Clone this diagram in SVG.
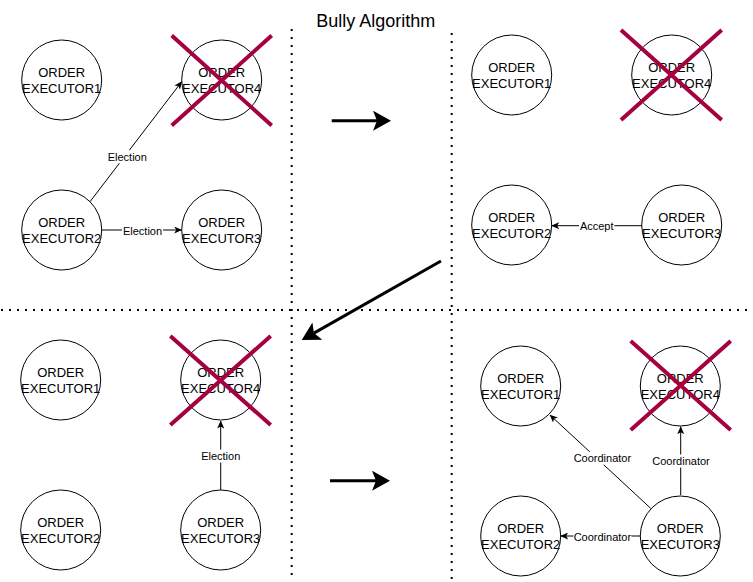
<svg xmlns="http://www.w3.org/2000/svg" width="753" height="582" viewBox="0 0 753 582">
<style>
.bg{fill:#ffffff}
circle.node{fill:#ffffff;stroke:#000000;stroke-width:1}
.nt{font-family:"Liberation Sans",Arial,sans-serif;font-size:13px;text-anchor:middle;fill:#000000}
.lt{font-family:"Liberation Sans",Arial,sans-serif;font-size:11px;text-anchor:middle;fill:#000000}
.lb{fill:#ffffff}
.edge{stroke:#000000;stroke-width:1;fill:none;marker-end:url(#thin)}
.big{stroke:#000000;stroke-width:3;fill:none;marker-end:url(#thick)}
.dot{stroke:#000000;stroke-width:2;stroke-dasharray:2 6;fill:none}
.cross{stroke:#A50040;stroke-width:4;fill:none}
.title{font-family:"Liberation Sans",Arial,sans-serif;font-size:18px;text-anchor:middle;fill:#000000}
</style>
<defs>
<marker id="thin" markerUnits="userSpaceOnUse" viewBox="0 0 8 7" refX="7.5" refY="3.5" markerWidth="8" markerHeight="7" orient="auto">
<path d="M0,0 L8,3.5 L0,7 L2,3.5 Z" fill="#000000"/>
</marker>
<marker id="thick" markerUnits="userSpaceOnUse" viewBox="0 0 18 20" refX="4" refY="10" markerWidth="18" markerHeight="20" orient="auto">
<path d="M0,0 L18,10 L0,20 L4,10 Z" fill="#000000"/>
</marker>
</defs>
<rect class="bg" x="0" y="0" width="753" height="582"/>
<text class="title" x="375.8" y="26.7">Bully Algorithm</text>
<g id="separators">
<line class="dot" x1="291.7" y1="29" x2="291.7" y2="577"/>
<line class="dot" x1="451.7" y1="33" x2="451.7" y2="581"/>
<line class="dot" x1="1" y1="310" x2="753" y2="310"/>
</g>
<g id="connectors">
<line class="edge" x1="90" y1="201.7" x2="181.7" y2="81.7"/>
<line class="edge" x1="101.7" y1="230" x2="181.7" y2="230"/>
<line class="edge" x1="641.7" y1="225.7" x2="551.7" y2="225.7"/>
<line class="edge" x1="220.7" y1="490" x2="220.7" y2="421"/>
<line class="edge" x1="650.7" y1="508.3" x2="550" y2="415"/>
<line class="edge" x1="680.7" y1="495" x2="680.7" y2="426.7"/>
<line class="edge" x1="640" y1="536" x2="560.7" y2="536"/>
<line class="big" x1="331.7" y1="120.7" x2="377" y2="120.7"/>
<line class="big" x1="441" y1="261" x2="313.9" y2="333.1"/>
<line class="big" x1="330" y1="480.7" x2="376" y2="480.7"/>
<g id="edge-labels">
<rect class="lb" x="106.8" y="150.2" width="41" height="13"/><text class="lt" x="127.3" y="160.7">Election</text>
<rect class="lb" x="122" y="224.2" width="41" height="13"/><text class="lt" x="142.5" y="234.7">Election</text>
<rect class="lb" x="579" y="219.2" width="35.4" height="13"/><text class="lt" x="596.7" y="229.7">Accept</text>
<rect class="lb" x="200.2" y="449.5" width="41" height="13"/><text class="lt" x="220.7" y="460">Election</text>
<rect class="lb" x="573.4" y="451.8" width="58" height="13"/><text class="lt" x="602.4" y="462.3">Coordinator</text>
<rect class="lb" x="652" y="454.5" width="58" height="13"/><text class="lt" x="681" y="465">Coordinator</text>
<rect class="lb" x="573.4" y="530.2" width="58" height="13"/><text class="lt" x="602.4" y="540.7">Coordinator</text>
</g>
</g>
<g id="q1-executor1"><circle class="node" cx="61.7" cy="80" r="40"/><text class="nt" x="61.7" y="77">ORDER</text><text class="nt" x="61.7" y="92.6">EXECUTOR1</text></g>
<g id="q1-executor4"><circle class="node" cx="221.7" cy="80" r="40"/><text class="nt" x="221.7" y="77">ORDER</text><text class="nt" x="221.7" y="92.6">EXECUTOR4</text></g>
<g id="q1-executor2"><circle class="node" cx="61.7" cy="230" r="40"/><text class="nt" x="61.7" y="227">ORDER</text><text class="nt" x="61.7" y="242.6">EXECUTOR2</text></g>
<g id="q1-executor3"><circle class="node" cx="221.7" cy="230" r="40"/><text class="nt" x="221.7" y="227">ORDER</text><text class="nt" x="221.7" y="242.6">EXECUTOR3</text></g>
<g id="q1-cross"><line class="cross" x1="171.7" y1="35.5" x2="271.7" y2="125.5"/><line class="cross" x1="271.7" y1="35.5" x2="171.7" y2="125.5"/></g>

<g id="q2-executor1"><circle class="node" cx="511.7" cy="75" r="40"/><text class="nt" x="511.7" y="72">ORDER</text><text class="nt" x="511.7" y="87.6">EXECUTOR1</text></g>
<g id="q2-executor4"><circle class="node" cx="671.7" cy="75" r="40"/><text class="nt" x="671.7" y="72">ORDER</text><text class="nt" x="671.7" y="87.6">EXECUTOR4</text></g>
<g id="q2-executor2"><circle class="node" cx="511.7" cy="225" r="40"/><text class="nt" x="511.7" y="222">ORDER</text><text class="nt" x="511.7" y="237.6">EXECUTOR2</text></g>
<g id="q2-executor3"><circle class="node" cx="681.7" cy="225" r="40"/><text class="nt" x="681.7" y="222">ORDER</text><text class="nt" x="681.7" y="237.6">EXECUTOR3</text></g>
<g id="q2-cross"><line class="cross" x1="621" y1="30" x2="721.7" y2="120"/><line class="cross" x1="721.7" y1="30" x2="621" y2="120"/></g>

<g id="q3-executor1"><circle class="node" cx="60.7" cy="380" r="40"/><text class="nt" x="60.7" y="377">ORDER</text><text class="nt" x="60.7" y="392.6">EXECUTOR1</text></g>
<g id="q3-executor4"><circle class="node" cx="220.7" cy="380" r="40"/><text class="nt" x="220.7" y="377">ORDER</text><text class="nt" x="220.7" y="392.6">EXECUTOR4</text></g>
<g id="q3-executor2"><circle class="node" cx="60.7" cy="530" r="40"/><text class="nt" x="60.7" y="527">ORDER</text><text class="nt" x="60.7" y="542.6">EXECUTOR2</text></g>
<g id="q3-executor3"><circle class="node" cx="220.7" cy="530" r="40"/><text class="nt" x="220.7" y="527">ORDER</text><text class="nt" x="220.7" y="542.6">EXECUTOR3</text></g>
<g id="q3-cross"><line class="cross" x1="170.3" y1="336" x2="270.7" y2="425"/><line class="cross" x1="270.7" y1="336" x2="170.3" y2="425"/></g>

<g id="q4-executor1"><circle class="node" cx="520.7" cy="386" r="40"/><text class="nt" x="520.7" y="383">ORDER</text><text class="nt" x="520.7" y="398.6">EXECUTOR1</text></g>
<g id="q4-executor4"><circle class="node" cx="680.3" cy="386" r="40"/><text class="nt" x="680.3" y="383">ORDER</text><text class="nt" x="680.3" y="398.6">EXECUTOR4</text></g>
<g id="q4-executor2"><circle class="node" cx="520.7" cy="536" r="40"/><text class="nt" x="520.7" y="533">ORDER</text><text class="nt" x="520.7" y="548.6">EXECUTOR2</text></g>
<g id="q4-executor3"><circle class="node" cx="680.3" cy="536" r="40"/><text class="nt" x="680.3" y="533">ORDER</text><text class="nt" x="680.3" y="548.6">EXECUTOR3</text></g>
<g id="q4-cross"><line class="cross" x1="630.7" y1="341" x2="730.7" y2="430"/><line class="cross" x1="730.7" y1="341" x2="630.7" y2="430"/></g>
</svg>
